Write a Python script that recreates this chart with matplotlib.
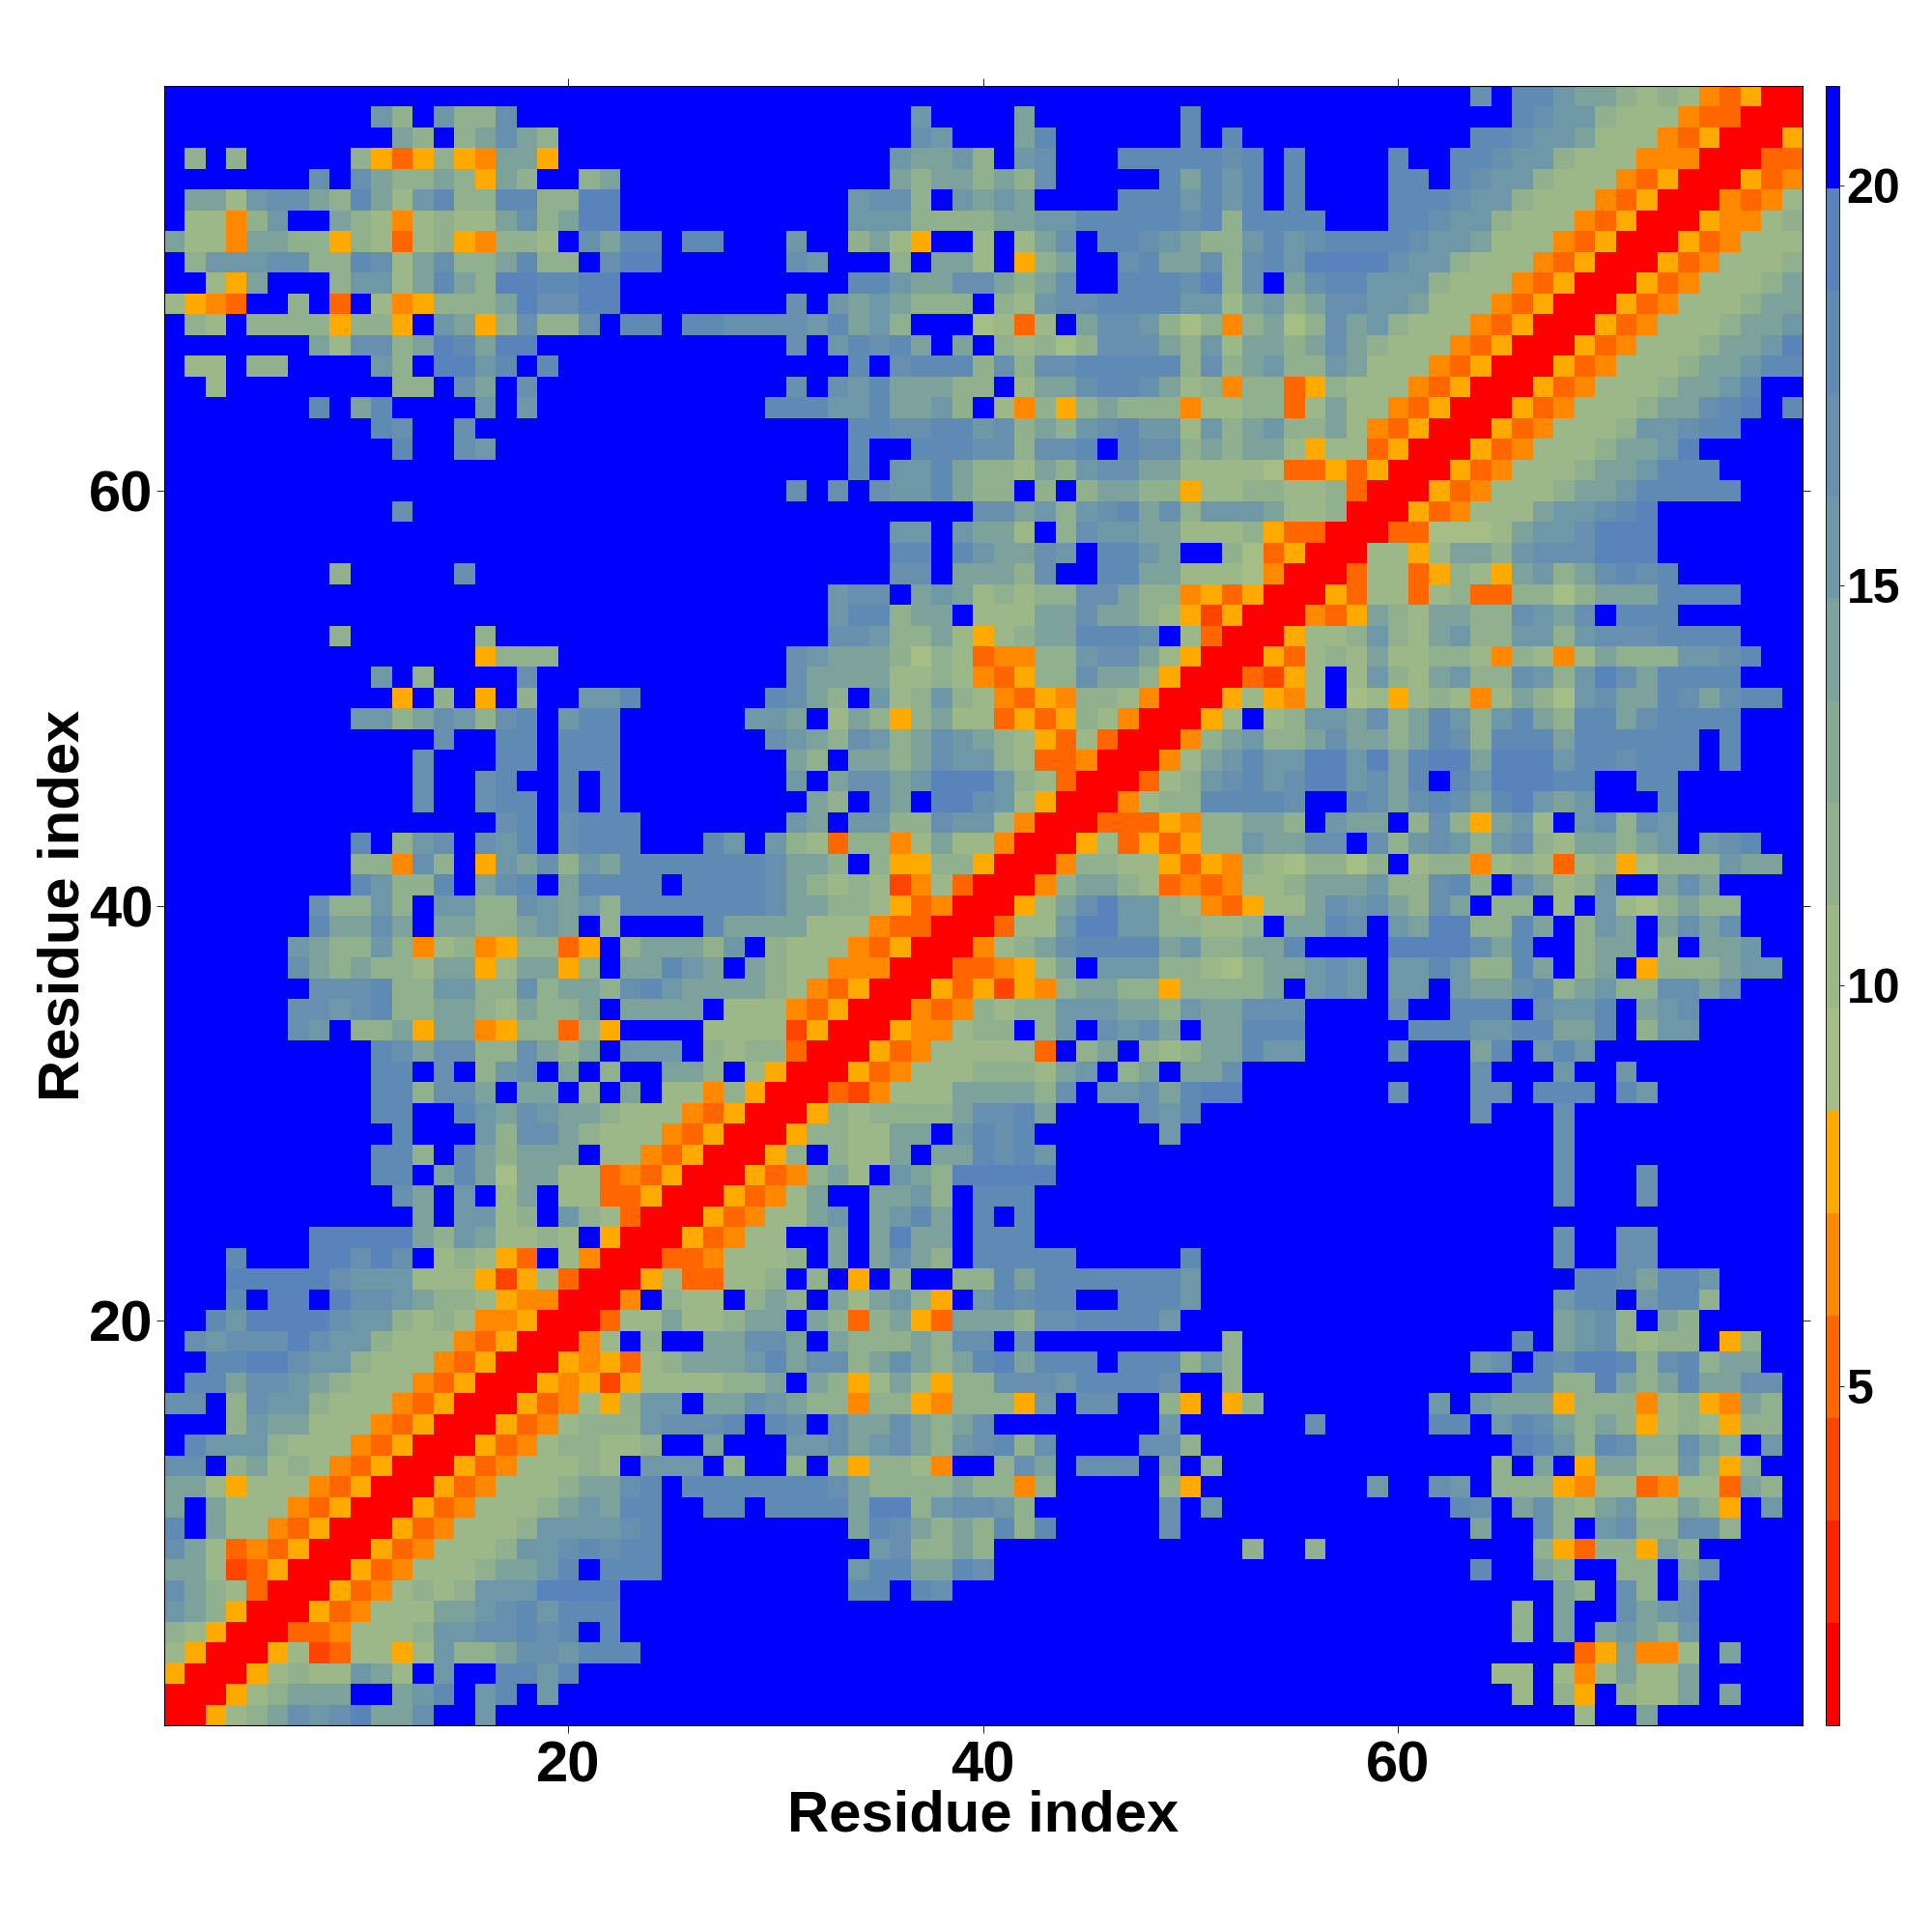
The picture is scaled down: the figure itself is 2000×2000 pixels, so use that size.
import numpy as np
import matplotlib
matplotlib.use("Agg")
import matplotlib.pyplot as plt
from matplotlib.colors import ListedColormap, BoundaryNorm

plt.rcParams['font.family'] = ['Liberation Sans', 'DejaVu Sans']
plt.rcParams['font.weight'] = 'bold'

# cell codes, top row (residue 79) first
# 0-5 red to amber, a-h green to steel blue, . = above the scale
rows_left = [
"...........................",
"..........ec.eccf..........",
"...........dc.cdfdc........",
".c.c.....c535c54dd5........",
".......f.fdccdc5dc..cd.....",
".ddbeffdcgdbegccggcchh.....",
".bb4ce..dcb4bcbbdfcdhh.....",
"dbb4ddcc5cb3bc54ccb.fdgg.gg",
".ceeeffccgfbdfccdgcc.fhh...",
"..b5d...ceebdgdchhgghh.....",
"b543..c.3.b45cccdhffhh.....",
".cb.cccc5cc5.ed5cfccf.gg.gg",
".......dbffcdhgdhh.........",
".bb.cc....ec.hheg.g........",
"..b........cc.fd.f.........",
".......g.dg....e.e.........",
"..........gf..f............",
"...........g..fe...........",
"...........................",
"...........................",
"...........f...............",
"...........................",
"...........................",
"........c.....f............",
"...........................",
"...........................",
"........c......c...........",
"...............5ccc........",
"..........e.c....f.........",
"...........5.c.5.c..eeg....",
".........eecdfecfg.egg.....",
".............f..gg.ggg.....",
"............f...gg.ggg.....",
"............f..fg..g.g.....",
"............f..fgg.g.g.....",
"................fg.fggg....",
".........g.cef.feg.fggg...g",
".........cc4fc.5edfcedggggg",
".........geccg.dfg.dgggg.gg",
".......fccec.eeccfedecggggg",
".......gddfd.ddccded.c....g",
"......edccec4bc45cc35.cdddc",
"......fdcdccbdd5bdd5c.ddged",
".......fffgcceeccfcddcfgedd",
"......ffefgccddcbdccd.dddd.",
"......fe.ccd5dd45cc3c5....b",
"..........gfdffccfdcd.eee.c",
"..........gg.f.cef.d.c..ddc",
"..........ggcffd.dd.c.d.bb4",
"..........gg..gedfeddcbbb43",
"...........g...ecffdcbbb435",
"..........ggc.gdcddd.bb4350",
"..........gg.dgdaddbb343500",
"...........fd.e.bd.bb335000",
"............d.eebc.ecb30005",
".......hhhhhdcedbbcb.500053",
"...g...hhfhf.bcb53.b4000334",
"...hhhhhfeeebbb525b30005b33",
"...g.hh.hffedccb5440004.cbb",
"..gehhhhfeecbcb4450003bbdbb",
".fefffhfeecbbb4350004b.c..d",
"..gghhfeecbbb4350005453bcdd",
".ggdffedcbbb43500054525bbbb",
"ff.cfeecbbb435000534b5cee.d",
"...ceddbbb435000534bcccefff",
".geeecbbb435000534bccbbc..d",
"ff.cdbcb435000534bbbcb.eee.",
"ddb5bbb435000534bbbcddfg.gg",
"d.dbbb435000534bbbcdedgg..g",
"g.dbb435000534bbbceeeefg...",
"fdb3435000534bbbceefgfgg...",
"ddb235000534bbbcddeg.ggg...",
"fdcb3000534bcbceeehhhh.....",
"edc5000534bbbddefgeggg.....",
"cb5000334bbbceeffgfg.g.....",
"b50005b23bb5beccdffeggg....",
"50005bcbbedb.e..ggeg.......",
"0005bcddd..deg.eg.e........",
"005bcdfefhddf..e...........",
]

rows_mid = [
"..........................",
".........e....d.......g...",
".........fe...dg......g.g.",
"........eddec.ef...gggggfg",
"........dcddcdcf.....gdgeg",
"......effc.eded....gggegeg",
"......eeeccccddeegggggfgcg",
"...e..cdb5..b.bdf.ggfedcce",
"...fe...c.ddb.5cd..fgddfcf",
"......ggeddffdcdf..gggfhcf",
"...f.ededccc.cbeffggggeebd",
"ffffegdec...ab3b.dffecac4c",
"...f.egfgd.d.cbcacfffdcebd",
"......g.fgggcfcffgggggcfcd",
"...f.fegdddcc.bddfggfdbc4c",
"..gggeegddec.b4c5cdccc4bbc",
"......ggffggefcdcefgeebecd",
"......g..gggffcffg.gffcdcd",
"......g.eegdccbdceffddbbbb",
"...f.f.feegdcc.c.cddcc5bbc",
"............ffdecefgdfceee",
"........ee.eddb.cfeeddbbbc",
"........gg.geddfe.gged..ca",
"........ff.dddcf..ggddbbba",
".....eff.dedbcbccffdcc4535",
".....eggcdd.bbbddfddcb5250",
".....ffeccdb5bcddgggf.b300",
"...fedddcacb344cceffdb5000",
"...fddddbbcb435ccfddc50003",
"..gfdc.ebcecb4354ccb40005b",
".eed.bdc5cdbb3535cb40005b.",
"..fedcfecdfedcb53b30004cde",
"...dc.ddcdfeecb3340004bdeg",
"...e.dffdehhhecb30003bcefg",
"....dc.fd.hhfeb50004bccggg",
"...ed.eeccfeeb400033354ccd",
"e.ecb3cc4bdbb40005b3535cce",
"ggfddc.c55cc50004ccbb5354c",
"ggfdcbcb24b30004cddcb3434b",
"ggfddccb5340005bdfheecb435",
"ddddbbb4330003bbehheeccbbc",
"e.cbbb4350004bcdfggggdeccd",
".dcbb4440003345bd.eeeccbac",
"ddcb435000535254cddcc5cccc",
"bbb435000434cbcceeeddceddf",
"bbb25000544bcc.ce.fefd.ddg",
"bcc3000534bbbbb3.cd.cbcddg",
".b5000534bbbcccbde.cd.ddf.",
"c5000324bbbddddcf.eefdghh.",
"50005cbccccdffgd....feg...",
"0005ccbbdd.egfg......e....",
"005c.cbbd.ddgfge..........",
"0534cdb.edchhhhh..........",
"534bd..ddec.ggg...........",
"34bbde.degd.g.g...........",
"4bb..d.dhdd.ggg...........",
"bbbc.d.dfdc.ggggg.....g...",
"bbc.c.5.c..ccgdggggggge...",
".cdc.dbdec5.egfgg..ggge...",
"cdd.dc3cd53dddcffgggge....",
"dffd.dcccdcff.f.........c.",
"degdffcdfdcdghdggg.gggcec.",
"ccd.dc5bdb5ccfffeggggf..c.",
"dfedcc4cc54ccc5e.ff..c5.5c",
"g.gf.fddfdcdf........e....",
"...eefdefdcefgcf....ffc...",
"c..c.c5ccb4..cfd.fff.d.c..",
"gggggfdccccdcc4c.....c5...",
"g.ggggdhhceffec......f.e..",
"......dgfdcdcgcg.....f....",
".......efccdc............c",
"......eggddgf.............",
"......gg.gf...............",
"..........................",
"..........................",
"..........................",
"..........................",
"..........................",
"..........................",
]

rows_right = [
"..........f.ggeddcbcb43500",
"............gfeecbbb433000",
"..........ggfeedbbb4350005",
".g....g..ggfeecbbb44400033",
".g....gg.gfeecbbb435000534",
".g....gggfeecbbb435000434b",
"ggg...ggfeecbbb435000544bc",
"gefggggfeedbbb435000534bbb",
"gehhhhfeecbbb435000534bbbc",
".dfggeeecbbb435000534bbbcd",
"ecdffeedbbb435000534bbbcdd",
"dacfdecbbb435000534bbbcdde",
"dcdfdcbbb435000534bbbcddeh",
"eccedbbb435000534bbbcddegg",
"c35cbbb435000534bbbcddeg..",
"c3bdbb435000534bbbcddfgh.g",
"eccdb435000534bbbceefgg...",
"db5bb35000534bbbcddeh.....",
"a33535000534bbbcddeggg....",
"cbbc3000534bbbcddeggggg...",
"dbbc000534bbbdeefgh.......",
"53300033aaabdeefhhh.......",
"35000bb5bddcefffhhh.......",
"40003bb35cb5decdfgfg......",
"00053bb3bc33ccacdddgggg...",
"00435dcbddccfedf.ggg......",
"05bbcecbdecceecefffgggg...",
"53bcbdbbccb4cb4bdccceefg..",
"25b.becbdeccfecehfdgggg...",
"54b.ab5bcb4bdcaefddgfdfgg.",
"bceedfcdgecegdcggdfgggg...",
"ccdfddcdgfcgggdgggggg.g...",
"eehhehdghhdhhheggfggg.g...",
"efhhefdg.gehhhgg..gg......",
"gf..gfdfgfdghede...g......",
"dc.edd.cfc5deb.efcfe......",
"ddff.fcefecefcbddcde.efg..",
"baccac.bcc4bcb3bc5acccedd.",
"bcdddeccfgc.fdbce..dfd....",
"bbdfefdcfd.cc.b.ebacdcc...",
".ddgf.edhhccgd.ced.dfdf...",
"dg....hhhhfdg..cdd.c.dde..",
"ddefe.eegeccgd.cd.5cccdee.",
"d.efe.ee.eddfgcdeccffdf...",
"ff....f..ggg.feeg.def.....",
"gg.....gggeeggddg.cee.....",
"ee....f...dg.ege..........",
"..........f...e..e........",
"......f...ff.ggg.ge.......",
"..........f...f...........",
"..............f...........",
"..............f...........",
"..............f...f.......",
"..............f...f.......",
"..........................",
"..............f..ff.......",
"..............f..ff.......",
"...............ggfdgge....",
"..............egg.eggc....",
"..............defc.dc.....",
"............g.defcbcc.5c..",
"..........ef.gfhhgcfgcdd..",
"............ggcchdcdgddff.",
"........e.eddd5ccc4bc54dc.",
"..f.....gg.egfdcdc5bcb5cc.",
"............hgecgfccfdc.e.",
"...........c.d.5ddbbec5c..",
".....e..fe.ccc54bb34bb3dc.",
".........gf.dfcbdebbdc5.e.",
"..........d..fc.efccffc...",
"..c..........c53cc5dc.....",
"..........g..dc..cc.df....",
"..............dc.fc.f.....",
"............c.d..fdef.....",
"............c.d.dedce.....",
"...............35d44b.d...",
"...........bb.b4bdbbd.....",
"............b.c5.cbbd.d...",
"...............b..d.......",
]

# distance (band centre) for each code
code_values = {'0': 1.4, '1': 2.7, '2': 4.0, '3': 5.2, '4': 6.5, '5': 7.8,
               'a': 9.1, 'b': 10.4, 'c': 11.6, 'd': 14.2, 'e': 15.5,
               'f': 16.8, 'g': 18.0, 'h': 19.3, '.': 20.6}

band_edges = [0.76, 2.04, 3.32, 4.6, 5.88, 7.16, 8.44, 9.72, 11.0, 12.28,
              13.56, 14.84, 16.12, 17.4, 18.68, 19.96, 21.24]
band_colors = ['#FF0000', '#FF2200', '#FF4400', '#FF6600', '#FF8800', '#FFAA00',
               '#A5BE85', '#9CB888', '#91B08D', '#86A994', '#7CA29B',
               '#6E97A8', '#6790AE', '#5F8AB4', '#5883BB', '#0000FF']

rows = [rows_left[i] + rows_mid[i] + rows_right[i] for i in range(79)]
z = np.array([[code_values[c] for c in row] for row in rows])[::-1]

cmap = ListedColormap(band_colors)
norm = BoundaryNorm(band_edges, cmap.N)

fig = plt.figure(figsize=(20, 20), dpi=100)
ax = fig.add_axes([0.0848, 0.107, 0.8482, 0.8485])
edges = np.arange(0.5, 80.0, 1.0)
mesh = ax.pcolormesh(edges, edges, z, cmap=cmap, norm=norm, antialiased=False, linewidth=0)
ax.set_xlim(0.5, 79.5)
ax.set_ylim(0.5, 79.5)
ax.set_xticks([20, 40, 60])
ax.set_yticks([20, 40, 60])
ax.tick_params(direction='out', length=6, width=0.6, top=True, right=True, labelsize=43)
ax.tick_params(axis='x', pad=5)
ax.tick_params(axis='y', pad=2)
for side in ax.spines.values():
    side.set_linewidth(0.8)
ax.set_xlabel("Residue index", fontsize=43, fontweight='bold', labelpad=-2.5)
ax.set_ylabel("Residue index", fontsize=43, fontweight='bold', labelpad=-1)

cax = fig.add_axes([0.945, 0.107, 0.007, 0.8485])
cbar = fig.colorbar(mesh, cax=cax, ticks=[5, 10, 15, 20], spacing='proportional', drawedges=False)
cbar.ax.minorticks_off()
cbar.ax.tick_params(direction='out', length=3.5, width=0.6, labelsize=36, pad=2)
cbar.outline.set_linewidth(0.6)

plt.savefig("out.png", dpi=100)
